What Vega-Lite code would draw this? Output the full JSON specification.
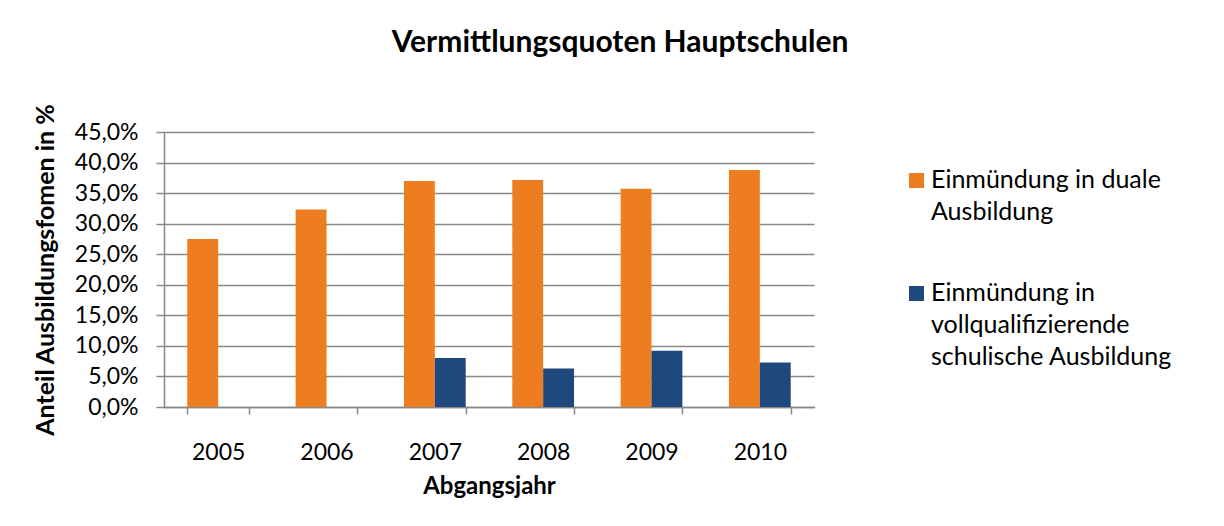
{
  "$schema": "https://vega.github.io/schema/vega-lite/v6.json",
  "autosize": "none",
  "width": 650,
  "height": 275,
  "padding": {"left": 164, "top": 132, "right": 410, "bottom": 119},
  "background": "white",
  "title": {
    "text": "Vermittlungsquoten Hauptschulen",
    "font": "Lato",
    "fontSize": 30,
    "fontWeight": "bold",
    "color": "#000000",
    "anchor": "middle",
    "dx": 131,
    "offset": 45
  },
  "data": {
    "values": [
      {"Jahr": "2005", "Reihe": "Einmündung in duale Ausbildung", "Anteil": 27.5},
      {"Jahr": "2006", "Reihe": "Einmündung in duale Ausbildung", "Anteil": 32.3},
      {"Jahr": "2007", "Reihe": "Einmündung in duale Ausbildung", "Anteil": 37.0},
      {"Jahr": "2008", "Reihe": "Einmündung in duale Ausbildung", "Anteil": 37.15},
      {"Jahr": "2009", "Reihe": "Einmündung in duale Ausbildung", "Anteil": 35.7},
      {"Jahr": "2010", "Reihe": "Einmündung in duale Ausbildung", "Anteil": 38.8},
      {"Jahr": "2007", "Reihe": "Einmündung in vollqualifizierende schulische Ausbildung", "Anteil": 8.0},
      {"Jahr": "2008", "Reihe": "Einmündung in vollqualifizierende schulische Ausbildung", "Anteil": 6.3},
      {"Jahr": "2009", "Reihe": "Einmündung in vollqualifizierende schulische Ausbildung", "Anteil": 9.2},
      {"Jahr": "2010", "Reihe": "Einmündung in vollqualifizierende schulische Ausbildung", "Anteil": 7.3}
    ]
  },
  "mark": {"type": "bar"},
  "encoding": {
    "x": {
      "field": "Jahr",
      "type": "nominal",
      "scale": {"paddingInner": 0.43, "paddingOuter": 0.215},
      "axis": {
        "title": "Abgangsjahr",
        "titleFont": "Lato",
        "titleFontSize": 24,
        "titleFontWeight": "bold",
        "titleColor": "#000000",
        "titlePadding": 10,
        "labelAngle": 0,
        "labelFont": "Lato",
        "labelFontSize": 23,
        "labelColor": "#000000",
        "labelPadding": 27,
        "tickBand": "extent",
        "tickSize": 7,
        "tickColor": "#888888",
        "tickWidth": 1.5,
        "domainColor": "#888888",
        "domainWidth": 1.5,
        "grid": false
      }
    },
    "xOffset": {
      "field": "Reihe",
      "type": "nominal",
      "scale": {"paddingInner": 0, "paddingOuter": 0}
    },
    "y": {
      "field": "Anteil",
      "type": "quantitative",
      "scale": {"domain": [0, 45], "nice": false},
      "axis": {
        "title": "Anteil Ausbildungsfomen in %",
        "titleFont": "Lato",
        "titleFontSize": 25,
        "titleFontWeight": "bold",
        "titleColor": "#000000",
        "titlePadding": 16,
        "values": [0, 5, 10, 15, 20, 25, 30, 35, 40, 45],
        "labelExpr": "replace(format(datum.value, '.1f'), '.', ',') + '%'",
        "labelFont": "Lato",
        "labelFontSize": 23,
        "labelColor": "#000000",
        "labelPadding": 18,
        "tickSize": 8,
        "tickColor": "#888888",
        "tickWidth": 1.5,
        "domainColor": "#888888",
        "domainWidth": 1.5,
        "grid": true,
        "gridColor": "#888888",
        "gridWidth": 1.5,
        "gridOpacity": 1
      }
    },
    "color": {
      "field": "Reihe",
      "type": "nominal",
      "scale": {
        "domain": ["Einmündung in duale Ausbildung", "Einmündung in vollqualifizierende schulische Ausbildung"],
        "range": ["#EE7D22", "#1F497D"]
      },
      "legend": {
        "title": null,
        "orient": "none",
        "legendX": 740,
        "legendY": 36,
        "symbolType": "square",
        "symbolSize": 225,
        "symbolStrokeWidth": 0,
        "symbolOpacity": 1,
        "labelFont": "Lato",
        "labelFontSize": 25,
        "labelColor": "#000000",
        "labelBaseline": "top",
        "labelOffset": 2,
        "labelLimit": 400,
        "rowPadding": 55,
        "labelExpr": "datum.label == 'Einmündung in duale Ausbildung' ? ['Einmündung in duale', 'Ausbildung'] : ['Einmündung in', 'vollqualifizierende', 'schulische Ausbildung']",
        "encode": {"labels": {"update": {"lineHeight": {"value": 32}, "dy": {"value": -13}}}}
      }
    }
  },
  "config": {
    "view": {"stroke": null},
    "axis": {"domainCap": "square"}
  }
}
